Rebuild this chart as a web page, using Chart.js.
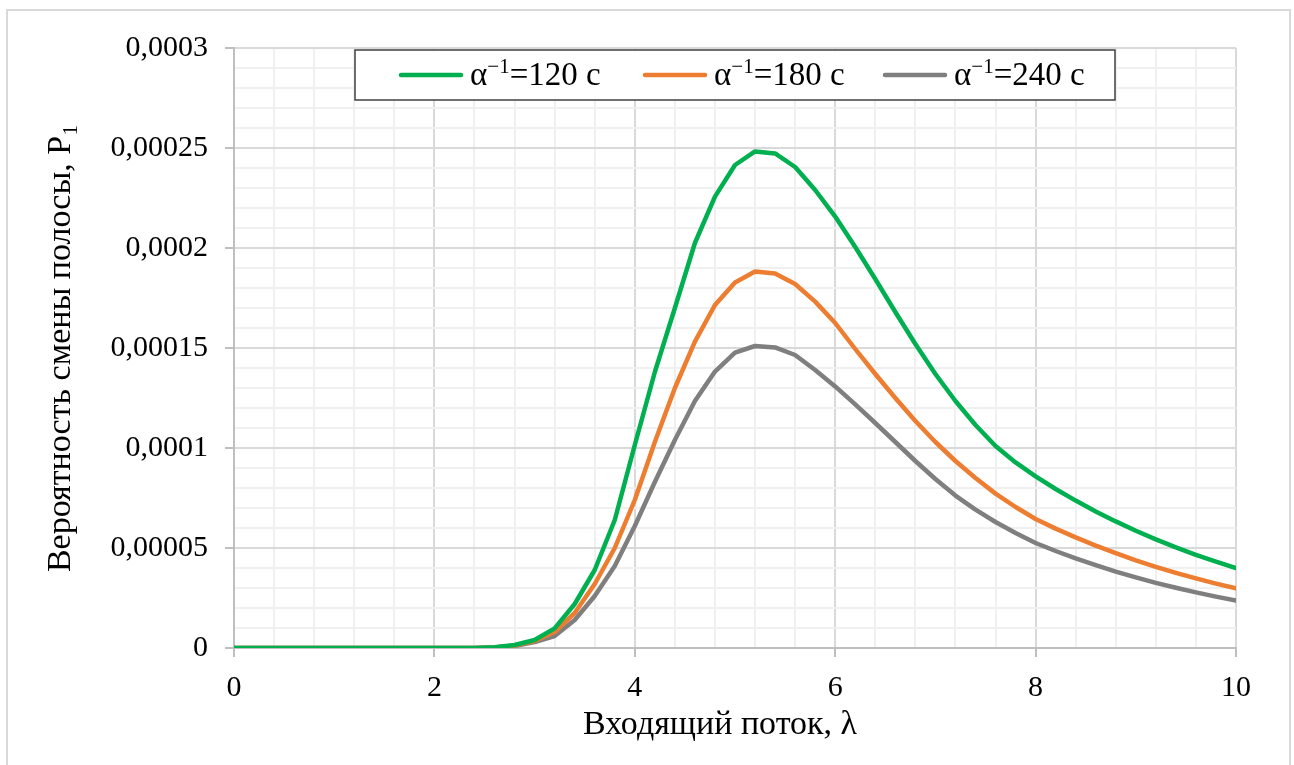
<!DOCTYPE html>
<html>
<head>
<meta charset="utf-8">
<script src="https://cdn.jsdelivr.net/npm/chart.js@4.4.1/dist/chart.umd.min.js"></script>
<style>
  html, body { margin: 0; padding: 0; background: #ffffff; }
  #wrap { width: 1294px; height: 765px; position: relative; }
</style>
</head>
<body>
<div id="wrap"><canvas id="c" width="1294" height="765"></canvas></div>
<script>
// ---- data ----
const lambdaValues = [0, 0.2, 0.4, 0.6, 0.8, 1.0, 1.2, 1.4, 1.6, 1.8,
  2.0, 2.2, 2.4, 2.6, 2.8, 3.0, 3.2, 3.4, 3.6, 3.8,
  4.0, 4.2, 4.4, 4.6, 4.8, 5.0, 5.2, 5.4, 5.6, 5.8,
  6.0, 6.2, 6.4, 6.6, 6.8, 7.0, 7.2, 7.4, 7.6, 7.8,
  8.0, 8.2, 8.4, 8.6, 8.8, 9.0, 9.2, 9.4, 9.6, 9.8, 10.0];

const p120 = [0, 0, 0, 0, 0, 0, 0, 0, 0, 0,
  0, 0, 0, 0.0000004, 0.0000015, 0.000004, 0.0000098, 0.000022, 0.000039, 0.000064,
  0.0001015, 0.000138, 0.00017, 0.0002025, 0.0002257, 0.0002415, 0.0002483, 0.0002473, 0.0002405, 0.000229,
  0.0002157, 0.0002005, 0.0001845, 0.000168, 0.000152, 0.000137, 0.0001235, 0.0001115, 0.000101, 0.0000928,
  0.0000858, 0.0000795, 0.0000737, 0.0000683, 0.0000633, 0.0000586, 0.0000543, 0.0000503, 0.0000466, 0.0000432, 0.00004];

const p180 = [0, 0, 0, 0, 0, 0, 0, 0, 0, 0,
  0, 0, 0, 0.0000003, 0.0000012, 0.0000035, 0.000008, 0.0000175, 0.000032, 0.00005,
  0.000074, 0.000103, 0.00013, 0.0001532, 0.0001715, 0.0001828, 0.0001882, 0.0001873, 0.000182, 0.0001732,
  0.0001625, 0.0001495, 0.000137, 0.000125, 0.0001135, 0.000103, 0.0000935, 0.000085, 0.0000772, 0.0000705,
  0.0000645, 0.0000597, 0.0000553, 0.0000512, 0.0000474, 0.0000438, 0.0000406, 0.0000376, 0.0000348, 0.0000322, 0.0000298];

const p240 = [0, 0, 0, 0, 0, 0, 0, 0, 0, 0,
  0, 0, 0, 0.0000002, 0.000001, 0.000003, 0.000006, 0.000014, 0.000026, 0.000041,
  0.000061, 0.000083, 0.000104, 0.0001235, 0.0001382, 0.0001477, 0.000151, 0.0001503, 0.0001465, 0.000139,
  0.0001308, 0.0001218, 0.0001125, 0.000103, 0.0000935, 0.0000845, 0.0000762, 0.0000692, 0.000063, 0.0000575,
  0.0000525, 0.0000485, 0.0000448, 0.0000414, 0.0000382, 0.0000353, 0.0000326, 0.0000301, 0.0000278, 0.0000257, 0.0000237];

const seriesLabels = ['120', '180', '240'];
const seriesColors = ['#00b050', '#ed7d31', '#7f7f7f'];
const xTitle = 'Входящий поток, λ';
const yTitle = 'Вероятность смены полосы, P\u2081';

// ---- helpers ----
const FONT = '"Liberation Serif", "Times New Roman", serif';
function pts(arr) { return lambdaValues.map((x, i) => ({ x: x, y: arr[i] })); }
function isMult(v, step) { const r = v / step; return Math.abs(r - Math.round(r)) < 1e-6; }
function fmtY(v) {
  if (Math.abs(v) < 1e-12) return '0';
  let s = v.toFixed(6).replace(/0+$/, '');
  return s.replace('.', ',');
}

const frame = {
  id: 'frame',
  beforeDraw(chart) {
    const ctx = chart.ctx;
    ctx.save();
    ctx.fillStyle = '#ffffff';
    ctx.fillRect(0, 0, chart.width, chart.height);
    ctx.strokeStyle = '#d9d9d9';
    ctx.lineWidth = 2;
    ctx.beginPath();
    ctx.moveTo(7, 765); ctx.lineTo(7, 10); ctx.lineTo(1290, 10); ctx.lineTo(1290, 765);
    ctx.stroke();
    ctx.restore();
  }
};

const xTitlePlugin = {
  id: 'xTitlePlugin',
  afterDraw(chart) {
    const ctx = chart.ctx;
    ctx.save();
    ctx.fillStyle = '#000000';
    ctx.font = '34px ' + FONT;
    ctx.textAlign = 'center';
    ctx.textBaseline = 'middle';
    ctx.fillText(xTitle, 720, 725);
    ctx.restore();
  }
};

const customLegend = {
  id: 'customLegend',
  afterDraw(chart) {
    const ctx = chart.ctx;
    ctx.save();
    const bx = 355, by = 50, bw = 760, bh = 50;
    ctx.fillStyle = '#ffffff';
    ctx.fillRect(bx, by, bw, bh);
    ctx.strokeStyle = '#404040';
    ctx.lineWidth = 1.5;
    ctx.strokeRect(bx, by, bw, bh);
    const starts = [401, 645, 885];
    const cy = by + bh / 2;
    chart.data.datasets.forEach((ds, i) => {
      const x0 = starts[i];
      ctx.strokeStyle = ds.borderColor;
      ctx.lineWidth = 4.5;
      ctx.lineCap = 'round';
      ctx.beginPath(); ctx.moveTo(x0, cy); ctx.lineTo(x0 + 60, cy); ctx.stroke();
      let tx = x0 + 69;
      ctx.fillStyle = '#000000';
      ctx.textBaseline = 'alphabetic';
      const base = cy + 10;
      ctx.font = '33px ' + FONT;
      ctx.fillText('α', tx, base);
      tx += ctx.measureText('α').width;
      ctx.font = '21px ' + FONT;
      ctx.fillText('−1', tx, base - 12);
      tx += ctx.measureText('−1').width;
      ctx.font = '33px ' + FONT;
      ctx.fillText('=' + seriesLabels[i] + ' с', tx, base);
    });
    ctx.restore();
  }
};

new Chart(document.getElementById('c'), {
  type: 'line',
  data: {
    datasets: [
      { label: 'α−1=120 с', data: pts(p120), borderColor: seriesColors[0] },
      { label: 'α−1=180 с', data: pts(p180), borderColor: seriesColors[1] },
      { label: 'α−1=240 с', data: pts(p240), borderColor: seriesColors[2] }
    ].map(d => Object.assign(d, { borderWidth: 4.5, pointRadius: 0, tension: 0, fill: false, borderJoinStyle: 'round', borderCapStyle: 'round' }))
  },
  options: {
    responsive: false,
    animation: false,
    devicePixelRatio: 1,
    layout: { padding: { left: 0, right: 58, top: 48, bottom: 0 } },
    plugins: { legend: { display: false }, tooltip: { enabled: false } },
    scales: {
      x: {
        type: 'linear', min: 0, max: 10,
        afterFit(s) { s.height = 117; },
        afterBuildTicks(s) {
          const t = [];
          for (let i = 0; i <= 25; i++) t.push({ value: Math.round(i * 0.4 * 10) / 10 });
          s.ticks = t;
        },
        ticks: {
          autoSkip: false, maxRotation: 0, padding: 13, color: '#000000',
          font: { family: FONT, size: 30 },
          callback(v) { return isMult(v, 2) ? String(Math.round(v)) : ''; }
        },
        grid: {
          drawTicks: true, tickLength: 9,
          color(c) { return isMult(c.tick.value, 2) ? '#d9d9d9' : '#f0f0f0'; },
          lineWidth(c) { return 2; },
          tickColor(c) { return isMult(c.tick.value, 2) ? '#bfbfbf' : 'rgba(0,0,0,0)'; }
        },
        border: { display: true, color: '#bfbfbf', width: 2 },
        title: { display: false }
      },
      y: {
        type: 'linear', min: 0, max: 0.0003,
        afterFit(s) { s.width = 234; },
        afterBuildTicks(s) {
          const t = [];
          for (let i = 0; i <= 30; i++) t.push({ value: i * 0.00001 });
          s.ticks = t;
        },
        ticks: {
          autoSkip: false, padding: 17, color: '#000000',
          font: { family: FONT, size: 30 },
          callback(v) { return isMult(v, 0.00005) ? fmtY(v) : ''; }
        },
        grid: {
          drawTicks: true, tickLength: 9,
          color(c) { return isMult(c.tick.value, 0.00005) ? '#d9d9d9' : '#f0f0f0'; },
          lineWidth(c) { return 2; },
          tickColor(c) { return isMult(c.tick.value, 0.00005) ? '#bfbfbf' : 'rgba(0,0,0,0)'; }
        },
        border: { display: true, color: '#bfbfbf', width: 2 },
        title: { display: true, text: yTitle, color: '#000000', font: { family: FONT, size: 34 }, padding: { top: 41, bottom: 0 } }
      }
    }
  },
  plugins: [frame, customLegend, xTitlePlugin]
});
</script>
</body>
</html>
